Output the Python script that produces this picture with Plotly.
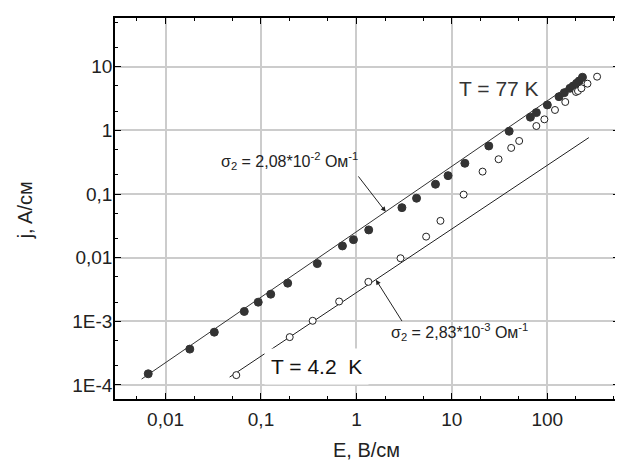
import numpy as np
import plotly.graph_objects as go

# 77 K (filled)
E_77 = [0.00658, 0.01795, 0.0324, 0.0668, 0.0935, 0.1265, 0.1905, 0.389, 0.714, 0.931,
        1.346, 3.0, 4.27, 6.74, 9.13, 13.7, 24.4, 39.9, 66.6, 76.9, 100.2, 132.8, 151,
        173, 187, 203, 216, 234]
j_77 = [1.50e-4, 3.66e-4, 6.76e-4, 1.43e-3, 2.0e-3, 2.67e-3, 3.98e-3, 8.07e-3, 0.0153, 0.0192,
        0.0273, 0.0611, 0.0859, 0.1425, 0.1945, 0.304, 0.569, 0.968, 1.61, 1.90, 2.51, 3.38, 3.91,
        4.58, 4.98, 5.49, 5.97, 6.82]
# 4.2 K (open)
E_42 = [0.0551, 0.200, 0.348, 0.659, 1.334, 2.90, 5.38, 7.6, 13.3, 21.0, 30.9, 41.9, 50.8,
        76.9, 93.3, 120.5, 154.5, 200, 210, 228, 264, 333]
j_42 = [1.43e-4, 5.65e-4, 1.02e-3, 2.05e-3, 4.17e-3, 9.8e-3, 0.0214, 0.0379, 0.098, 0.225,
        0.352, 0.530, 0.682, 1.17, 1.49, 2.09, 2.79, 4.01, 4.15, 4.58, 5.41, 6.97]
# fit lines
fit77_E = [0.00561, 245]
fit77_j = [1.24e-4, 7.3]
fit42_E = [0.0469, 273]
fit42_j = [1.33e-4, 0.77]

x_tickvals = [0.01, 0.1, 1, 10, 100]
x_ticktext = ["0,01", "0,1", "1", "10", "100"]
y_tickvals = [1e-4, 1e-3, 0.01, 0.1, 1, 10]
y_ticktext = ["1E-4", "1E-3", "0,01", "0,1", "1", "10"]

FONT = "Arial, Liberation Sans, sans-serif"
fig = go.Figure()
fig.add_trace(go.Scatter(x=fit77_E, y=fit77_j, mode="lines", line=dict(color="#333333", width=1), showlegend=False))
fig.add_trace(go.Scatter(x=fit42_E, y=fit42_j, mode="lines", line=dict(color="#222222", width=1), showlegend=False))
fig.add_trace(go.Scatter(x=E_77, y=j_77, mode="markers",
                         marker=dict(symbol="circle", size=8, color="#333333", line=dict(color="#333333", width=1)),
                         showlegend=False))
fig.add_trace(go.Scatter(x=E_42, y=j_42, mode="markers",
                         marker=dict(symbol="circle", size=7, color="white", line=dict(color="#222222", width=1)),
                         showlegend=False))

L = np.log10
ann = []
ann.append(dict(x=L(2.03), y=L(0.0525), ax=L(1.02), ay=L(0.1995), xref="x", yref="y", axref="x", ayref="y",
                showarrow=True, arrowhead=2, arrowsize=1, arrowwidth=1, arrowcolor="#222", text=""))
ann.append(dict(x=L(1.6), y=L(4.5e-3), ax=L(3.07), ay=L(9.57e-4), xref="x", yref="y", axref="x", ayref="y",
                showarrow=True, arrowhead=2, arrowsize=1, arrowwidth=1, arrowcolor="#222", text=""))
ann.append(dict(x=L(0.197), y=L(0.331), xref="x", yref="y", showarrow=False,
                text="σ<sub>2</sub> = 2,08*10<sup>-2</sup> Ом<sup>-1</sup>", font=dict(size=16, color="#222", family=FONT)))
ann.append(dict(x=L(12.1), y=L(6.9e-4), xref="x", yref="y", showarrow=False,
                text="σ<sub>2</sub> = 2,83*10<sup>-3</sup> Ом<sup>-1</sup>", font=dict(size=16, color="#222", family=FONT)))
ann.append(dict(x=L(31.1), y=L(4.58), xref="x", yref="y", showarrow=False,
                text="T = 77 K", font=dict(size=21, color="#333", family=FONT)))
ann.append(dict(x=L(0.379), y=L(1.95e-4), xref="x", yref="y", showarrow=False,
                text="T = 4.2&nbsp; K", font=dict(size=21, color="#111", family=FONT),
                bgcolor="white", borderpad=6))
ann.append(dict(x=25, y=210, xref="paper", yref="paper", showarrow=False, text="j, A/см", textangle=-90,
                xanchor="center", yanchor="middle", font=dict(size=20, color="#222", family=FONT)))
ann.append(dict(x=367, y=450, xref="paper", yref="paper", showarrow=False, text="E, В/см",
                xanchor="center", yanchor="middle", font=dict(size=20, color="#222", family=FONT)))

# page body has an 8px margin: shrink the figure so the plot lands where the reference has it
OFF = 8
W, H = 623 - OFF, 464 - OFF
ml, mr, mt, mb = 115 - OFF, 2, 18 - OFF, 65
pw, ph = W - ml - mr, H - mt - mb
for a in ann[-2:]:
    a["x"] = (a["x"] - OFF - ml) / pw
    a["y"] = 1 - (a["y"] - OFF - mt) / ph

axis_common = dict(type="log", showgrid=True, gridcolor="#cccccc", gridwidth=1.5,
                   showline=True, linecolor="black", linewidth=1.5, mirror="allticks",
                   ticks="inside", ticklen=6, tickcolor="black", tickwidth=1,
                   tickfont=dict(size=19, color="#222", family=FONT), zeroline=False,
                   minor=dict(ticks="inside", ticklen=3, tickcolor="black", tickwidth=1, showgrid=False))
fig.update_xaxes(range=[-2.53, 2.752], tickvals=x_tickvals, ticktext=x_ticktext, ticklabelstandoff=2, **axis_common)
fig.update_yaxes(range=[-4.22, 1.765], tickvals=y_tickvals, ticktext=y_ticktext, ticklabelstandoff=-3, **axis_common)
fig.update_layout(width=W, height=H, margin=dict(l=ml, r=mr, t=mt, b=mb),
                  paper_bgcolor="white", plot_bgcolor="white", annotations=ann,
                  font=dict(family=FONT))
fig.write_html("out.html")
